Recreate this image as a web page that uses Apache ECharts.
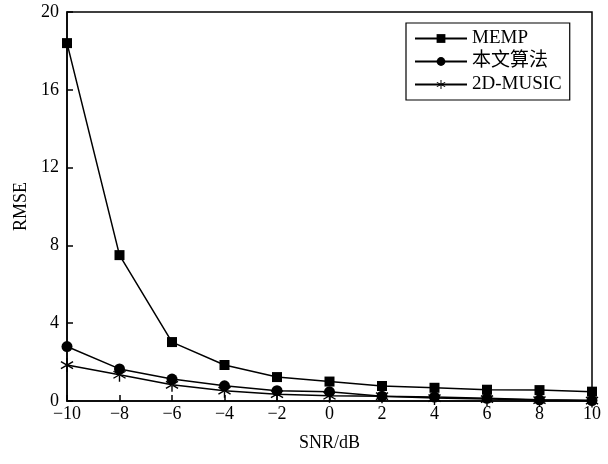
<!DOCTYPE html>
<html>
<head>
<meta charset="utf-8">
<script src="https://cdn.jsdelivr.net/npm/echarts@6/dist/echarts.min.js"></script>
<style>
html, body { margin: 0; padding: 0; background: #fff; }
#main { width: 608px; height: 464px; }
</style>
</head>
<body>
<div id="main"></div>
<script>
var snr = [-10, -8, -6, -4, -2, 0, 2, 4, 6, 8, 10];
var memp = [18.4, 7.5, 3.03, 1.85, 1.23, 1.0, 0.77, 0.68, 0.58, 0.56, 0.48];
var proposed = [2.8, 1.65, 1.13, 0.78, 0.53, 0.47, 0.25, 0.2, 0.14, 0.06, 0.02];
var music2d = [1.85, 1.35, 0.83, 0.53, 0.35, 0.27, 0.25, 0.15, 0.1, 0.05, 0.02];
var names = ['MEMP', '本文算法', '2D-MUSIC'];

var starPath = 'path://M9 0L11 0L11 20L9 20Z M18.16 15.87L19.16 14.13L1.84 4.13L0.84 5.87Z M19.16 5.87L18.16 4.13L0.84 14.13L1.84 15.87Z';
var font = '"Liberation Serif", "Noto Sans CJK SC", serif';

function pairs(arr) {
    var out = [];
    for (var i = 0; i < snr.length; i++) {
        out.push([snr[i], arr[i]]);
    }
    return out;
}

function minus(v) {
    return String(v).replace('-', '\u2212');
}

var myChart = echarts.init(document.getElementById('main'));

var options = {
    backgroundColor: '#fff',
    animation: false,
    grid: {
        left: 67, right: 16, top: 12, bottom: 63,
        show: true, borderColor: '#000', borderWidth: 1.5
    },
    legend: {
        orient: 'vertical',
        left: 406, top: 23,
        padding: [6, 8, 6, 8],
        itemGap: 4,
        itemWidth: 52,
        itemHeight: 11,
        borderColor: '#000',
        borderWidth: 1.2,
        textStyle: { fontFamily: font, fontSize: 19, color: '#000' },
        data: names
    },
    xAxis: {
        type: 'value',
        min: -10, max: 10, interval: 2,
        name: 'SNR/dB',
        nameLocation: 'middle',
        nameGap: 33,
        nameTextStyle: { fontFamily: font, fontSize: 18, color: '#000' },
        axisLine: { onZero: false, lineStyle: { color: '#000', width: 1.5 } },
        axisTick: { inside: true, length: 6, lineStyle: { color: '#000', width: 1.5 } },
        axisLabel: { fontFamily: font, fontSize: 18, color: '#000', margin: 4, formatter: minus },
        splitLine: { show: false }
    },
    yAxis: {
        type: 'value',
        min: 0, max: 20, interval: 4,
        name: 'RMSE',
        nameLocation: 'middle',
        nameGap: 35,
        nameTextStyle: { fontFamily: font, fontSize: 18, color: '#000' },
        axisLine: { onZero: false, lineStyle: { color: '#000', width: 1.5 } },
        axisTick: { inside: true, length: 6, lineStyle: { color: '#000', width: 1.5 } },
        axisLabel: { fontFamily: font, fontSize: 18, color: '#000', margin: 8 },
        splitLine: { show: false }
    },
    color: ['#000', '#000', '#000'],
    series: [{
        name: names[0],
        type: 'line',
        data: pairs(memp),
        symbol: 'rect',
        symbolSize: 10,
        lineStyle: { color: '#000', width: 1.5 },
        itemStyle: { color: '#000' }
    }, {
        name: names[1],
        type: 'line',
        data: pairs(proposed),
        symbol: 'circle',
        symbolSize: 11,
        lineStyle: { color: '#000', width: 1.5 },
        itemStyle: { color: '#000' }
    }, {
        name: names[2],
        type: 'line',
        data: pairs(music2d),
        symbol: starPath,
        symbolSize: 14,
        symbolKeepAspect: true,
        lineStyle: { color: '#000', width: 1.5 },
        itemStyle: { color: '#000' }
    }]
};

myChart.setOption(options);
</script>
</body>
</html>
